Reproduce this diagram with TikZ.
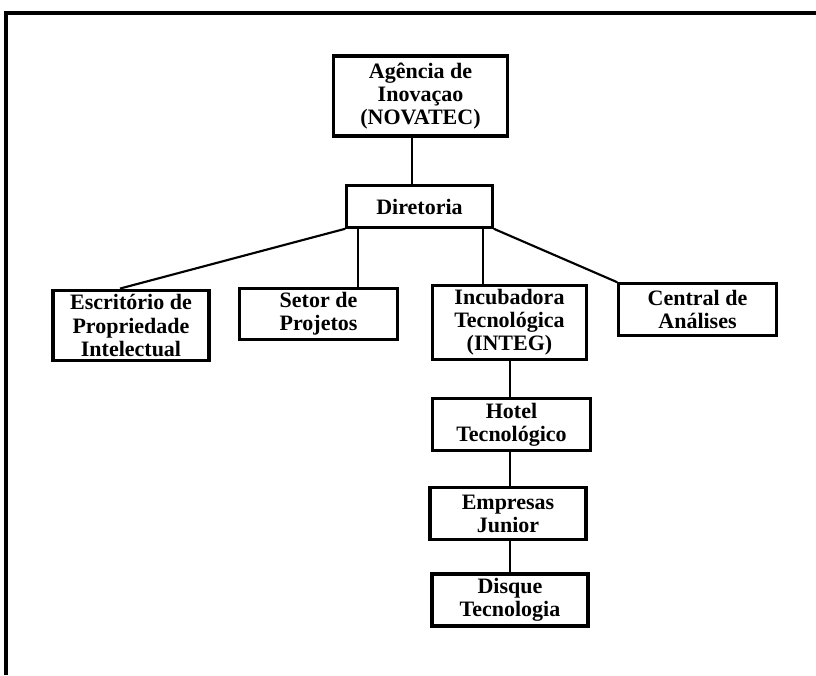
\documentclass[tikz,border=0pt]{standalone}
\usepackage{fontspec}
\setmainfont{Liberation Serif}
\usetikzlibrary{calc}
\tikzset{
  unit/.style ={draw=black,fill=white,line width=2.4pt,align=center,inner sep=0pt,
                font=\bfseries\fontsize{16.5}{17.3}\selectfont},
  link/.style ={draw=black,line width=1.6pt},
  frame/.style={draw=black,line width=3pt},
}

\begin{document}
\begin{tikzpicture}[x=0.75pt,y=-0.75pt]
\useasboundingbox (0,0) rectangle (816,675);
\draw[frame] (5.5,675) -- (5.5,13) -- (816,13);

% ---------------- top ------------------------------------------------------
\node[unit,minimum width=130pt,minimum height=60pt] (nov) at (420.5,96)
  {Agência de\\Inovaçao\\(NOVATEC)};
\node[unit,minimum width=109pt,minimum height=31pt] (dir) at (419.5,206.5)
  {Diretoria};

% ---------------- setores --------------------------------------------------
\node[unit,minimum width=117pt,minimum height=53pt] (esc) at (131,325.5)
  {Escritório de\\Propriedade\\Intelectual};
\node[unit,minimum width=118pt,minimum height=38pt] (set) at (318.5,314)
  {Setor de\\Projetos};
\node[unit,minimum width=116pt,minimum height=56pt] (inc) at (509.5,322.5)
  {Incubadora\\Tecnológica\\(INTEG)};
\node[unit,minimum width=118pt,minimum height=38.5pt] (cen) at (697.5,309.5)
  {Central de\\Análises};

% ---------------- incubadora -----------------------------------------------
\node[unit,minimum width=118pt,minimum height=38.5pt] (hot) at (511.5,424.5)
  {Hotel\\Tecnológico};
\node[unit,minimum width=117pt,minimum height=38.5pt] (emp) at (508,513.5)
  {Empresas\\Junior};
\node[unit,minimum width=117pt,minimum height=39pt] (dis) at (510,600)
  {Disque\\Tecnologia};

% ---------------- links ----------------------------------------------------
\coordinate (novLow) at ($(nov.south)+(-8.5,0)$);
\coordinate (setTop) at ($(set.north)+(39.5,0)$);
\coordinate (incTop) at ($(inc.north)+(-26.5,0)$);
\coordinate (escTop) at ($(esc.north)+(-11,0)$);
\coordinate (stem)   at ($(inc.south)+(0.5,0)$);
\draw[link] (novLow) -- (novLow |- dir.north);
\draw[link] (dir.south west) -- (escTop);
\draw[link] (setTop |- dir.south) -- (setTop);
\draw[link] (incTop |- dir.south) -- (incTop);
\draw[link] (dir.south east) -- (cen.north west);
\draw[link] (stem) -- (stem |- hot.north);
\draw[link] (stem |- hot.south) -- (stem |- emp.north);
\draw[link] (stem |- emp.south) -- (stem |- dis.north);
\end{tikzpicture}
\end{document}
